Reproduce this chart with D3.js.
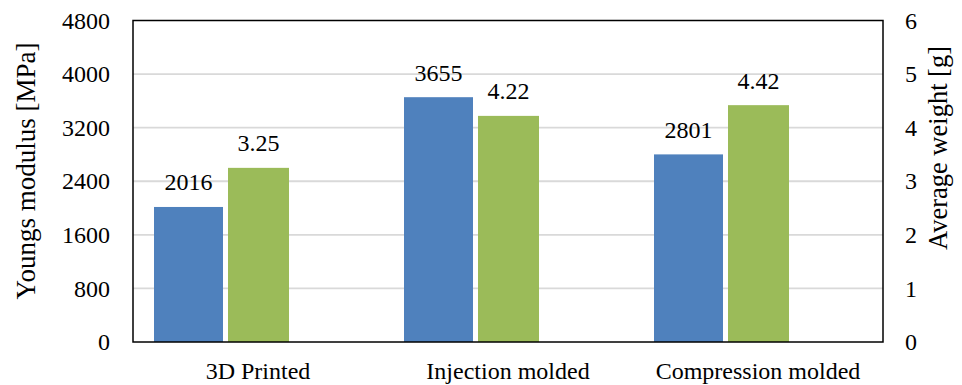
<!DOCTYPE html>
<html>
<head>
<meta charset="utf-8">
<script src="https://cdn.jsdelivr.net/npm/d3@7"></script>
<style>
  body { margin: 0; background: #fff; }
  svg text { font-family: "Liberation Serif", serif; fill: #000; }
</style>
</head>
<body>
<svg id="chart"></svg>
<script>
var categories = ['3D Printed', 'Injection molded', 'Compression molded'];
var modulus = [2016, 3655, 2801];      // MPa, left axis
var weight = [3.25, 4.22, 4.42];       // g, right axis
var leftTicks = [0, 800, 1600, 2400, 3200, 4000, 4800];
var rightTicks = [0, 1, 2, 3, 4, 5, 6];

var width = 962;
var height = 385;
var margin = { top: 20.5, right: 79, bottom: 43, left: 133 };
var innerW = width - margin.left - margin.right;
var innerH = height - margin.top - margin.bottom;

var blue = '#4f81bd';
var green = '#9bbb59';
var serif = '"Liberation Serif", serif';

var svg = d3.select('#chart')
    .attr('width', width)
    .attr('height', height);

var g = svg.append('g')
    .attr('transform', 'translate(' + margin.left + ',' + margin.top + ')');

var x = d3.scaleBand()
    .domain(categories)
    .range([0, innerW])
    .padding(0);

var yLeft = d3.scaleLinear().domain([0, 4800]).range([innerH, 0]);
var yRight = d3.scaleLinear().domain([0, 6]).range([innerH, 0]);

// gridlines
g.selectAll('.grid')
    .data(leftTicks.slice(1, -1))
    .enter().append('line')
    .attr('x1', 0)
    .attr('x2', innerW)
    .attr('y1', function (d) { return yLeft(d); })
    .attr('y2', function (d) { return yLeft(d); })
    .attr('stroke', '#d9d9d9')
    .attr('stroke-width', 1.8);

// bar offsets within each category band (fractions of band width)
var bw = x.bandwidth();
var blueX0 = bw * 21 / 250, blueW = bw * 69 / 250;
var greenX0 = bw * 95 / 250, greenW = bw * 61 / 250;

g.selectAll('.bar-mod')
    .data(modulus)
    .enter().append('rect')
    .attr('x', function (d, i) { return x(categories[i]) + blueX0; })
    .attr('y', function (d) { return yLeft(d); })
    .attr('width', blueW)
    .attr('height', function (d) { return innerH - yLeft(d); })
    .attr('fill', blue);

g.selectAll('.bar-wt')
    .data(weight)
    .enter().append('rect')
    .attr('x', function (d, i) { return x(categories[i]) + greenX0; })
    .attr('y', function (d) { return yRight(d); })
    .attr('width', greenW)
    .attr('height', function (d) { return innerH - yRight(d); })
    .attr('fill', green);

// value labels
g.selectAll('.lbl-mod')
    .data(modulus)
    .enter().append('text')
    .attr('x', function (d, i) { return x(categories[i]) + blueX0 + blueW / 2; })
    .attr('y', function (d) { return yLeft(d) - 16.5; })
    .attr('text-anchor', 'middle')
    .attr('font-family', serif)
    .style('font-size', '24px')
    .text(function (d) { return d; });

g.selectAll('.lbl-wt')
    .data(weight)
    .enter().append('text')
    .attr('x', function (d, i) { return x(categories[i]) + greenX0 + greenW / 2; })
    .attr('y', function (d) { return yRight(d) - 16.5; })
    .attr('text-anchor', 'middle')
    .attr('font-family', serif)
    .style('font-size', '24px')
    .text(function (d) { return d.toFixed(2); });

// frame
g.append('rect')
    .attr('x', 0)
    .attr('y', 0)
    .attr('width', innerW)
    .attr('height', innerH)
    .attr('fill', 'none')
    .attr('stroke', '#000')
    .attr('stroke-width', 1.5);

// axes
var leftAxis = g.append('g')
    .call(d3.axisLeft(yLeft).tickValues(leftTicks).tickFormat(d3.format('d'))
        .tickSize(0).tickPadding(23));
var rightAxis = g.append('g')
    .attr('transform', 'translate(' + innerW + ',0)')
    .call(d3.axisRight(yRight).tickValues(rightTicks).tickFormat(d3.format('d'))
        .tickSize(0).tickPadding(22));
var bottomAxis = g.append('g')
    .attr('transform', 'translate(0,' + innerH + ')')
    .call(d3.axisBottom(x).tickSize(0).tickPadding(20));

[leftAxis, rightAxis, bottomAxis].forEach(function (a) {
    a.attr('font-family', serif).attr('font-size', 24);
    a.select('.domain').remove();
    a.selectAll('text').attr('fill', '#000');
});

// axis titles
svg.append('text')
    .attr('transform', 'translate(35,171) rotate(-90)')
    .attr('text-anchor', 'middle')
    .attr('font-family', serif)
    .style('font-size', '27px')
    .text('Youngs modulus [MPa]');

svg.append('text')
    .attr('transform', 'translate(947,148) rotate(-90)')
    .attr('text-anchor', 'middle')
    .attr('font-family', serif)
    .style('font-size', '26.5px')
    .text('Average weight [g]');
</script>
</body>
</html>
